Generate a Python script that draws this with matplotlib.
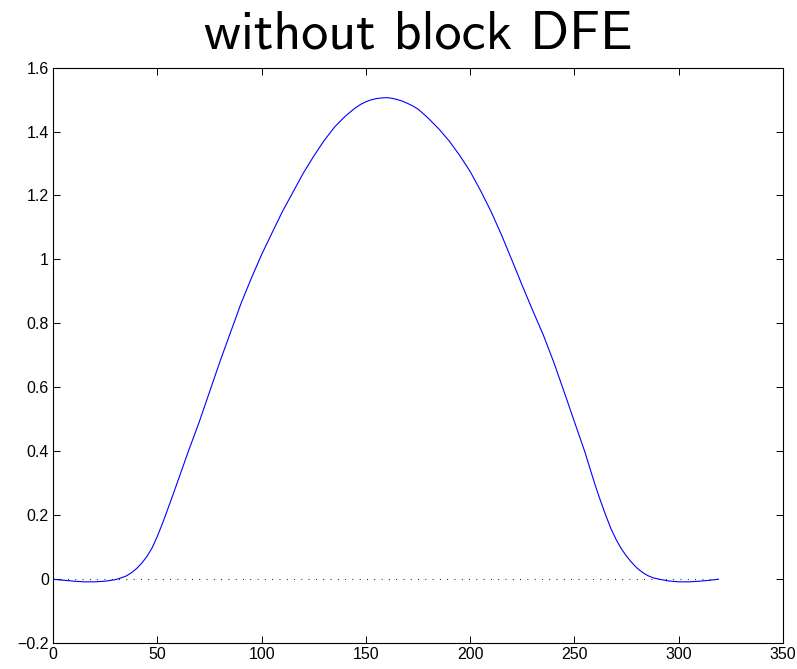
import matplotlib
matplotlib.use("Agg")
import matplotlib.pyplot as plt

# sample index and response values
n_vals = [0, 5, 10, 15, 20, 25, 30, 32.5, 35, 37.5, 40, 42.5, 45, 47.5, 50,
          52.5, 55, 57.5, 60, 62.5, 65, 70, 75, 80, 85, 90, 95, 100, 105,
          110, 115, 120, 125, 130, 135, 137.5, 140, 142.5, 145, 147.5, 150,
          152.5, 155, 157.5, 160, 162.5, 165, 167.5, 170, 172.5, 175, 177.5,
          180, 185, 190, 195, 200, 205, 210, 215, 220, 225, 230, 235, 240,
          245, 250, 255, 257.5, 260, 262.5, 265, 267.5, 270, 272.5, 275,
          277.5, 280, 282.5, 285, 287.5, 290, 295, 300, 305, 310, 315, 319]
y_vals = [0.0, -0.003, -0.006, -0.008, -0.008, -0.006, -0.001, 0.004, 0.010,
          0.020, 0.033, 0.050, 0.071, 0.098, 0.134, 0.175, 0.219, 0.264,
          0.310, 0.356, 0.402, 0.490, 0.585, 0.680, 0.770, 0.860, 0.940,
          1.015, 1.083, 1.150, 1.210, 1.270, 1.323, 1.372, 1.414, 1.431,
          1.447, 1.461, 1.474, 1.485, 1.493, 1.499, 1.503, 1.505, 1.506,
          1.504, 1.500, 1.495, 1.488, 1.480, 1.470, 1.456, 1.441, 1.408,
          1.370, 1.325, 1.275, 1.215, 1.150, 1.077, 0.998, 0.918, 0.840,
          0.765, 0.680, 0.587, 0.492, 0.398, 0.345, 0.293, 0.245, 0.200,
          0.158, 0.124, 0.095, 0.072, 0.052, 0.035, 0.022, 0.012, 0.005,
          0.001, -0.005, -0.008, -0.008, -0.006, -0.003, 0.0]

zero_x = [0, 319]
zero_y = [0, 0]

xticks = [0, 50, 100, 150, 200, 250, 300, 350]
yticks = [-0.2, 0, 0.2, 0.4, 0.6, 0.8, 1, 1.2, 1.4, 1.6]
ytick_labels = ["\u22120.2", "0", "0.2", "0.4", "0.6", "0.8", "1", "1.2", "1.4", "1.6"]

plt.rcParams['font.family'] = ['Liberation Sans', 'DejaVu Sans']
plt.rcParams['lines.scale_dashes'] = False

fig = plt.figure(figsize=(7.97, 6.69), dpi=100)
ax = fig.add_axes([0.0665, 0.0385, 0.916, 0.8605])

ax.plot(zero_x, zero_y, color='black', linestyle=(0, (0.6, 4.65)), linewidth=0.8)
ax.plot(n_vals, y_vals, color='#0000ff', linewidth=0.8)

ax.set_xlim(0, 350)
ax.set_ylim(-0.2, 1.6)
ax.set_xticks(xticks)
ax.set_xticklabels([str(t) for t in xticks])
ax.set_yticks(yticks)
ax.set_yticklabels(ytick_labels)

ax.tick_params(direction='in', length=5, width=0.7, labelsize=11.5,
               top=True, right=True, pad=3)
for s in ax.spines.values():
    s.set_linewidth(0.8)

ax.set_title('without block DFE', fontsize=39, family='cmss10', pad=14)

fig.savefig('out.png', dpi=100, facecolor='white')
